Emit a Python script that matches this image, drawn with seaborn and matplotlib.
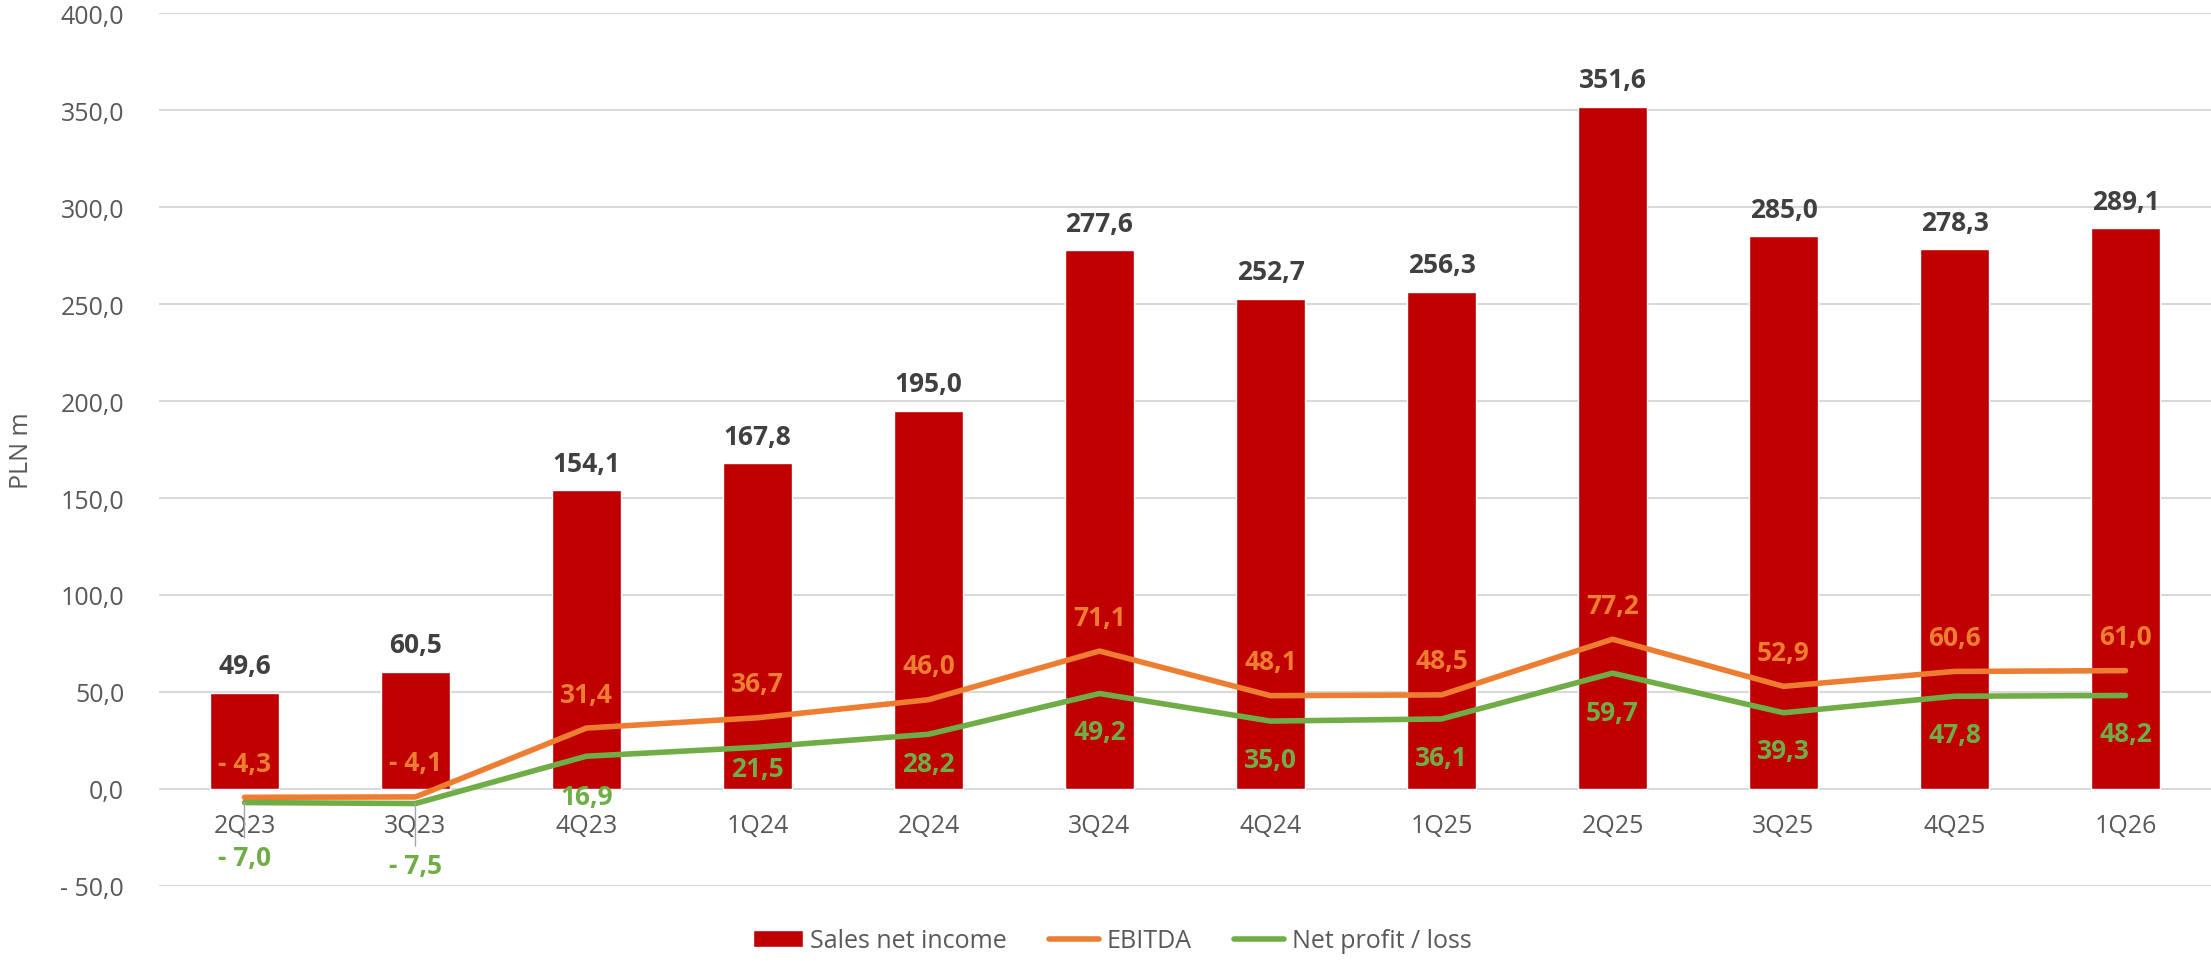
import numpy as np
import seaborn as sns
import matplotlib.pyplot as plt
from matplotlib.patches import Patch
from matplotlib.lines import Line2D

# dane kwartalne (PLN m)
quarters = ['2Q23', '3Q23', '4Q23', '1Q24', '2Q24', '3Q24',
            '4Q24', '1Q25', '2Q25', '3Q25', '4Q25', '1Q26']
sales = [49.6, 60.5, 154.1, 167.8, 195.0, 277.6, 252.7, 256.3, 351.6, 285.0, 278.3, 289.1]
ebitda = [-4.3, -4.1, 31.4, 36.7, 46.0, 71.1, 48.1, 48.5, 77.2, 52.9, 60.6, 61.0]
net_profit = [-7.0, -7.5, 16.9, 21.5, 28.2, 49.2, 35.0, 36.1, 59.7, 39.3, 47.8, 48.2]
y_ticks = [-50, 0, 50, 100, 150, 200, 250, 300, 350, 400]
series_names = ['Sales net income', 'EBITDA', 'Net profit / loss']

# przesuniecia etykiet (px)
ebitda_dy = [34] * 12
profit_dy = [55, 62, 40, 21, 29, 38, 38, 39, 39, 38, 38, 38]

RED = '#C00000'
ORANGE = '#ED7D31'
GREEN = '#70AD47'
GREY = '#595959'
PT = 0.72  # px -> pt przy dpi=100


def fmt(v):
    s = f"{abs(v):.1f}".replace('.', ',')
    return f"- {s}" if v < 0 else s


sns.set_style('white')
plt.rcParams['font.family'] = ['Open Sans', 'DejaVu Sans']

fig = plt.figure(figsize=(22.11, 9.62), dpi=100)
ax = fig.add_axes([0.0719, 0.078, 0.9281, 0.9074])

pos = np.arange(len(quarters))
sns.barplot(x=quarters, y=sales, color=RED, saturation=1, width=0.4, ax=ax, zorder=2)
sns.lineplot(x=pos, y=ebitda, color=ORANGE, linewidth=4, ax=ax, zorder=3,
             solid_capstyle='round')
sns.lineplot(x=pos, y=net_profit, color=GREEN, linewidth=4, ax=ax, zorder=3,
             solid_capstyle='round')

# etykiety danych
for i, v in enumerate(sales):
    ax.annotate(fmt(v), xy=(i, v), xytext=(0, 27 * PT), textcoords='offset points',
                ha='center', va='center', fontsize=19, fontweight='bold', color='#404040')
for i, v in enumerate(ebitda):
    ax.annotate(fmt(v), xy=(i, v), xytext=(0, ebitda_dy[i] * PT), textcoords='offset points',
                ha='center', va='center', fontsize=19, fontweight='bold', color=ORANGE, zorder=4)
for i, v in enumerate(net_profit):
    arrow = None
    if profit_dy[i] > 50:
        arrow = dict(arrowstyle='-', color='#A6A6A6', lw=1, shrinkA=2, shrinkB=0)
    ax.annotate(fmt(v), xy=(i, v), xytext=(0, -profit_dy[i] * PT), textcoords='offset points',
                ha='center', va='center', fontsize=19, fontweight='bold', color=GREEN,
                arrowprops=arrow, zorder=4)

ax.set_xlim(-0.5, len(quarters) - 0.5)
ax.set_ylim(-50, 400)
ax.set_yticks(y_ticks)
ax.set_yticklabels([fmt(t) for t in y_ticks])
ax.yaxis.grid(True, color='#D9D9D9', linewidth=1.5)
ax.xaxis.grid(False)
ax.set_axisbelow(True)
for s in ax.spines.values():
    s.set_visible(False)
ax.spines['bottom'].set_position(('data', 0))
ax.tick_params(axis='x', length=0, pad=17, labelsize=18, labelcolor=GREY)
ax.tick_params(axis='y', length=0, pad=25, labelsize=18, labelcolor=GREY)
ax.set_xlabel('')
ax.set_ylabel('PLN m', fontsize=18, color=GREY)
ax.yaxis.set_label_coords(-0.061, 0.5)

handles = [Patch(facecolor=RED),
           Line2D([0], [0], color=ORANGE, lw=4, solid_capstyle='round'),
           Line2D([0], [0], color=GREEN, lw=4, solid_capstyle='round')]
leg = fig.legend(handles, series_names, loc='center', bbox_to_anchor=(0.503, 0.021), ncol=3,
                 frameon=False, fontsize=18, handlelength=2.0, handletextpad=0.3,
                 columnspacing=1.7)
for t in leg.get_texts():
    t.set_color(GREY)

fig.savefig('out.png', dpi=100)
